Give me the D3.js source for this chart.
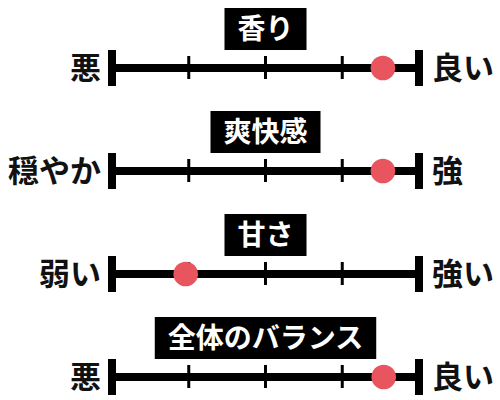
<!DOCTYPE html>
<html>
<head>
<meta charset="utf-8">
<script src="https://cdn.jsdelivr.net/npm/d3@7"></script>
<style>
  body { margin: 0; background: #fff; }
  text { font-family: "Noto Sans CJK JP", sans-serif; font-weight: 700; }
</style>
</head>
<body>
<div id="scaleChart"></div>
<script>
// data
var titles = ["香り", "爽快感", "甘さ", "全体のバランス"];
var leftLabels = ["悪", "穏やか", "弱い", "悪"];
var rightLabels = ["良い", "強", "強い", "良い"];
var scores = [3.53, 3.53, 0.96, 3.54];
var tickValues = [1, 2, 3];

var width = 500, height = 400;

var svg = d3.select("#scaleChart")
  .append("svg")
    .attr("width", width)
    .attr("height", height);

var x = d3.scaleLinear()
  .domain([0, 4])
  .range([112, 419]);

// row positions (centre of each axis line)
var y = d3.scalePoint()
  .domain(titles)
  .range([68, 377]);

var rows = svg.selectAll("g.row")
  .data(titles)
  .enter()
  .append("g")
    .attr("class", "row")
    .attr("transform", function(d) { return "translate(0," + y(d) + ")"; });

// main line
rows.append("line")
  .attr("x1", x(0))
  .attr("x2", x(4))
  .attr("stroke", "#000")
  .attr("stroke-width", 8);

// end caps
rows.selectAll("rect.cap")
  .data([0, 4])
  .enter()
  .append("rect")
    .attr("class", "cap")
    .attr("x", function(d) { return x(d) - 4; })
    .attr("y", -18)
    .attr("width", 8)
    .attr("height", 36)
    .attr("fill", "#000");

// small ticks
rows.selectAll("line.tick")
  .data(tickValues)
  .enter()
  .append("line")
    .attr("class", "tick")
    .attr("x1", function(d) { return x(d); })
    .attr("x2", function(d) { return x(d); })
    .attr("y1", -12)
    .attr("y2", 11)
    .attr("stroke", "#000")
    .attr("stroke-width", 3);

// score dot
rows.append("circle")
  .attr("cx", function(d, i) { return x(scores[i]); })
  .attr("r", 12.3)
  .attr("fill", "#e8555f");

// side labels
rows.append("text")
  .attr("x", 101)
  .attr("y", 0)
  .attr("dy", "0.36em")
  .attr("text-anchor", "end")
  .attr("font-size", 31)
  .attr("fill", "#111")
  .text(function(d, i) { return leftLabels[i]; });

rows.append("text")
  .attr("x", 432)
  .attr("y", 0)
  .attr("dy", "0.36em")
  .attr("text-anchor", "start")
  .attr("font-size", 31)
  .attr("fill", "#111")
  .text(function(d, i) { return rightLabels[i]; });

// titles in black boxes
var titleG = rows.append("g")
  .attr("transform", "translate(" + x(2) + ",-39)");

var titleText = titleG.append("text")
  .attr("text-anchor", "middle")
  .attr("dy", "0.36em")
  .attr("font-size", 28)
  .attr("fill", "#fff")
  .text(function(d) { return d; });

titleG.each(function() {
  var g = d3.select(this);
  var bb = g.select("text").node().getBBox();
  g.insert("rect", "text")
    .attr("x", bb.x - 13)
    .attr("y", -21)
    .attr("width", bb.width + 26)
    .attr("height", 42)
    .attr("fill", "#000");
});
</script>
</body>
</html>
